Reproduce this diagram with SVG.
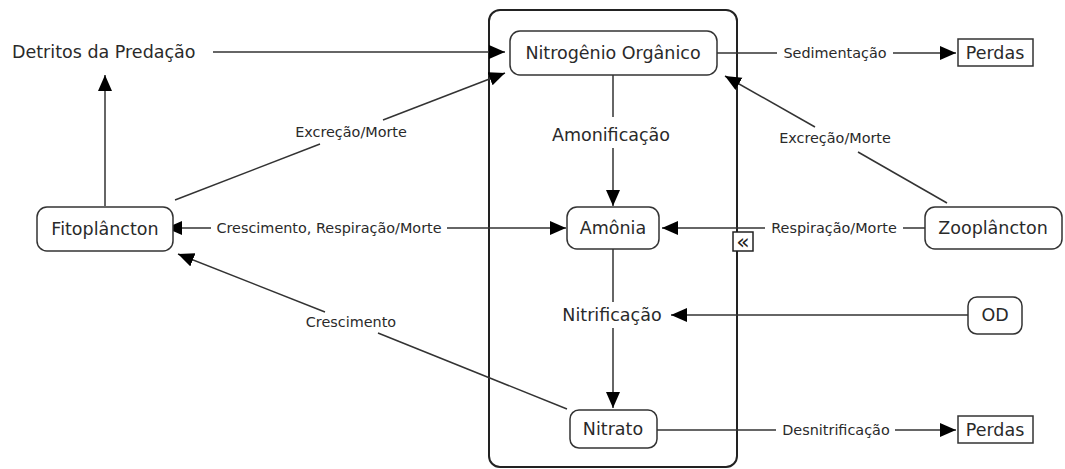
<svg xmlns="http://www.w3.org/2000/svg" width="1065" height="469" viewBox="0 0 1065 469">
<style>
.bg{fill:#fff}
.node{fill:#fff;stroke:#333;stroke-width:1.5}
.cont{fill:none;stroke:#222;stroke-width:2}
.t{font-family:"DejaVu Sans","Liberation Sans",sans-serif;font-size:17.5px;fill:#2a2a2a;text-anchor:middle}
.l{font-family:"DejaVu Sans","Liberation Sans",sans-serif;font-size:14.4px;fill:#2a2a2a;text-anchor:middle}
.c{fill:none;stroke:#333;stroke-width:1.5}
.a{marker-end:url(#ah)}
</style>
<defs>
<marker id="ah" markerUnits="userSpaceOnUse" markerWidth="17" markerHeight="15" refX="16" refY="7" orient="auto">
<path d="M0,0 L16,7 L0,14 z" fill="#000"/>
</marker>
<marker id="as" markerUnits="userSpaceOnUse" markerWidth="17" markerHeight="15" refX="0" refY="7" orient="auto">
<path d="M16,0 L0,7 L16,14 z" fill="#000"/>
</marker>
</defs>
<rect class="bg" x="0" y="0" width="1065" height="469"/>
<g id="container">
<rect class="cont" x="489" y="10" width="248" height="457" rx="11"/>
</g>
<g id="connectors">
<line class="c a" x1="213" y1="52" x2="505" y2="52"/>
<line class="c a" x1="105" y1="206" x2="105" y2="75"/>
<line class="c" x1="175" y1="200" x2="320" y2="144"/>
<line class="c a" x1="383" y1="120" x2="505" y2="73"/>
<text class="l" x="351" y="137">Excreção/Morte</text>
<line class="c" x1="717" y1="53" x2="777" y2="53"/>
<line class="c a" x1="893" y1="53" x2="956" y2="53"/>
<text class="l" x="835" y="58">Sedimentação</text>
<line class="c" x1="947" y1="203" x2="858" y2="152"/>
<line class="c a" x1="815" y1="127" x2="725" y2="76"/>
<text class="l" x="835" y="143">Excreção/Morte</text>
<line class="c" x1="613" y1="75" x2="613" y2="117"/>
<text class="t" x="611" y="141">Amonificação</text>
<line class="c a" x1="613" y1="148" x2="613" y2="206"/>
<line class="c" x1="166" y1="228" x2="211" y2="228" marker-start="url(#as)"/>
<text class="l" x="329" y="233">Crescimento, Respiração/Morte</text>
<line class="c a" x1="447" y1="228" x2="566" y2="228"/>
<line class="c" x1="925" y1="228" x2="903" y2="228"/>
<text class="l" x="834" y="233">Respiração/Morte</text>
<line class="c a" x1="765" y1="228" x2="662" y2="228"/>
<line class="c" x1="613" y1="249" x2="613" y2="302"/>
<text class="t" x="612" y="321">Nitrificação</text>
<line class="c a" x1="613" y1="328" x2="613" y2="408"/>
<line class="c a" x1="968" y1="315" x2="671" y2="315"/>
<line class="c" x1="567" y1="409" x2="378" y2="333"/>
<text class="l" x="351" y="327">Crescimento</text>
<line class="c a" x1="325" y1="312" x2="178" y2="254"/>
<line class="c" x1="657" y1="430" x2="776" y2="430"/>
<text class="l" x="836" y="435">Desnitrificação</text>
<line class="c a" x1="895" y1="430" x2="956" y2="430"/>
</g>
<g id="marker-icon">
<rect x="733" y="232" width="20" height="19" fill="#fff" stroke="#222" stroke-width="1.5"/>
<text x="743" y="249" font-family="DejaVu Sans, sans-serif" font-size="22" fill="#222" text-anchor="middle">«</text>
</g>
<g id="detritos">
<text class="t" x="12" y="58" style="text-anchor:start">Detritos da Predação</text>
</g>
<g id="nitrogenio">
<rect class="node" x="510" y="31" width="207" height="44" rx="10"/>
<text class="t" x="613" y="59">Nitrogênio Orgânico</text>
</g>
<g id="perdas1">
<rect class="node" x="958" y="39" width="75" height="27"/>
<text class="t" x="995" y="59">Perdas</text>
</g>
<g id="fitoplancton">
<rect class="node" x="37" y="207" width="136" height="44" rx="10"/>
<text class="t" x="105" y="235">Fitoplâncton</text>
</g>
<g id="amonia">
<rect class="node" x="567" y="207" width="92" height="42" rx="10"/>
<text class="t" x="613" y="234">Amônia</text>
</g>
<g id="zooplancton">
<rect class="node" x="925" y="207" width="137" height="42" rx="10"/>
<text class="t" x="993" y="234">Zooplâncton</text>
</g>
<g id="od">
<rect class="node" x="968" y="297" width="54" height="37" rx="9"/>
<text class="t" x="995" y="321">OD</text>
</g>
<g id="nitrato">
<rect class="node" x="570" y="410" width="87" height="38" rx="9"/>
<text class="t" x="613" y="435">Nitrato</text>
</g>
<g id="perdas2">
<rect class="node" x="958" y="416" width="75" height="27"/>
<text class="t" x="995" y="436">Perdas</text>
</g>
</svg>
